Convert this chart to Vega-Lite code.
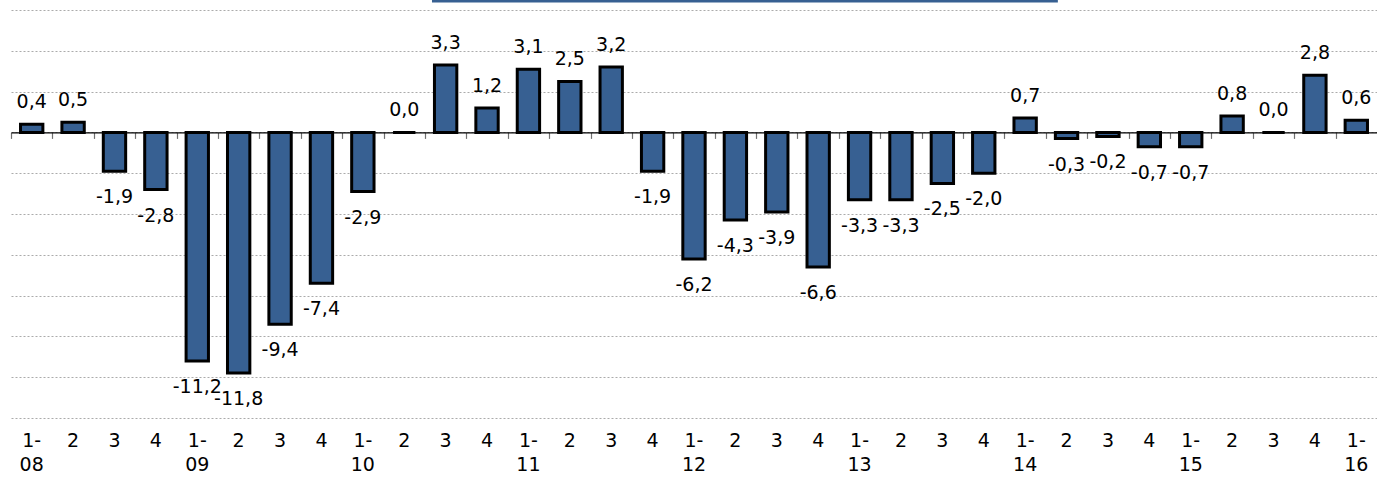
{
  "$schema": "https://vega.github.io/schema/vega-lite/v6.json",
  "width": 1366,
  "height": 408,
  "autosize": {"type": "none"},
  "padding": {"left": 11, "top": 10, "right": 0, "bottom": 60},
  "background": "white",
  "config": {
    "view": {"stroke": null},
    "font": "DejaVu Sans",
    "locale": {"number": {"decimal": ",", "thousands": ".", "grouping": [3], "currency": ["", " €"], "minus": "-"}}
  },
  "layer": [
    {
      "data": {"values": [
        {"p": "1-08", "v": 0.4}, {"p": "2-08", "v": 0.5}, {"p": "3-08", "v": -1.9}, {"p": "4-08", "v": -2.8},
        {"p": "1-09", "v": -11.2}, {"p": "2-09", "v": -11.8}, {"p": "3-09", "v": -9.4}, {"p": "4-09", "v": -7.4},
        {"p": "1-10", "v": -2.9}, {"p": "2-10", "v": 0.0}, {"p": "3-10", "v": 3.3}, {"p": "4-10", "v": 1.2},
        {"p": "1-11", "v": 3.1}, {"p": "2-11", "v": 2.5}, {"p": "3-11", "v": 3.2}, {"p": "4-11", "v": -1.9},
        {"p": "1-12", "v": -6.2}, {"p": "2-12", "v": -4.3}, {"p": "3-12", "v": -3.9}, {"p": "4-12", "v": -6.6},
        {"p": "1-13", "v": -3.3}, {"p": "2-13", "v": -3.3}, {"p": "3-13", "v": -2.5}, {"p": "4-13", "v": -2.0},
        {"p": "1-14", "v": 0.7}, {"p": "2-14", "v": -0.3}, {"p": "3-14", "v": -0.2}, {"p": "4-14", "v": -0.7},
        {"p": "1-15", "v": -0.7}, {"p": "2-15", "v": 0.8}, {"p": "3-15", "v": 0.0}, {"p": "4-15", "v": 2.8},
        {"p": "1-16", "v": 0.6}
      ]},
      "encoding": {
        "y": {
          "field": "v", "type": "quantitative",
          "scale": {"domain": [-14, 6], "nice": false, "zero": false},
          "axis": {"values": [-14, -12, -10, -8, -6, -4, -2, 0, 2, 4, 6], "labels": false, "ticks": false, "domain": false, "title": null, "grid": true, "gridColor": "#ababab", "gridDash": [2, 2], "gridWidth": 1}
        }
      },
      "layer": [
        {
          "mark": {"type": "bar", "fill": "#376092", "stroke": "#000000", "strokeWidth": 3},
          "encoding": {
            "x": {
              "field": "p", "type": "nominal", "sort": null,
              "scale": {"domain": ["1-08","2-08","3-08","4-08","1-09","2-09","3-09","4-09","1-10","2-10","3-10","4-10","1-11","2-11","3-11","4-11","1-12","2-12","3-12","4-12","1-13","2-13","3-13","4-13","1-14","2-14","3-14","4-14","1-15","2-15","3-15","4-15","1-16"], "paddingInner": 0.46, "paddingOuter": 0.23},
              "axis": {"orient": "bottom", "offset": -285.6, "title": null, "labels": false, "domain": true, "domainColor": "#000000", "domainWidth": 1.2, "ticks": true, "tickColor": "#707070", "tickSize": 6, "tickWidth": 1.2, "bandPosition": 0.5, "tickOffset": -20.7, "grid": false}
            }
          }
        },
        {
          "transform": [{"filter": "datum.v >= 0"}],
          "mark": {"type": "text", "dy": -22, "fontSize": 19, "font": "DejaVu Sans", "color": "#000000", "baseline": "middle"},
          "encoding": {
            "x": {
              "field": "p", "type": "nominal", "sort": null,
              "scale": {"domain": ["1-08","2-08","3-08","4-08","1-09","2-09","3-09","4-09","1-10","2-10","3-10","4-10","1-11","2-11","3-11","4-11","1-12","2-12","3-12","4-12","1-13","2-13","3-13","4-13","1-14","2-14","3-14","4-14","1-15","2-15","3-15","4-15","1-16"], "paddingInner": 0.46, "paddingOuter": 0.23},
              "axis": {"orient": "bottom", "title": null, "domain": false, "ticks": false, "grid": false, "labelAngle": 0, "labelFont": "DejaVu Sans", "labelFontSize": 19, "labelColor": "#000000", "labelPadding": 13, "labelLineHeight": 24, "labelOverlap": false, "labelExpr": "indexof(datum.value, '1-') == 0 ? ['1-', substring(datum.value, 2)] : substring(datum.value, 0, 1)"}
            },
            "text": {"field": "v", "type": "quantitative", "format": ".1f"}
          }
        },
        {
          "transform": [{"filter": "datum.v < 0"}],
          "mark": {"type": "text", "dy": 26, "fontSize": 19, "font": "DejaVu Sans", "color": "#000000", "baseline": "middle"},
          "encoding": {
            "x": {
              "field": "p", "type": "nominal", "sort": null,
              "scale": {"domain": ["1-08","2-08","3-08","4-08","1-09","2-09","3-09","4-09","1-10","2-10","3-10","4-10","1-11","2-11","3-11","4-11","1-12","2-12","3-12","4-12","1-13","2-13","3-13","4-13","1-14","2-14","3-14","4-14","1-15","2-15","3-15","4-15","1-16"], "paddingInner": 0.46, "paddingOuter": 0.23},
              "axis": null
            },
            "text": {"field": "v", "type": "quantitative", "format": ".1f"}
          }
        }
      ],
      "resolve": {"axis": {"x": "independent"}}
    },
    {
      "data": {"values": [{"a": 10.17, "b": 25.29, "y": 6.44}]},
      "mark": {"type": "rule", "color": "#376092", "strokeWidth": 3, "clip": false},
      "encoding": {
        "x": {"field": "a", "type": "quantitative", "scale": {"domain": [0, 33], "nice": false, "zero": false}, "axis": null},
        "x2": {"field": "b"},
        "y": {"field": "y", "type": "quantitative", "scale": {"domain": [-14, 6], "nice": false, "zero": false}, "axis": null}
      }
    }
  ],
  "resolve": {"scale": {"x": "independent", "y": "independent"}, "axis": {"x": "independent", "y": "independent"}}
}
